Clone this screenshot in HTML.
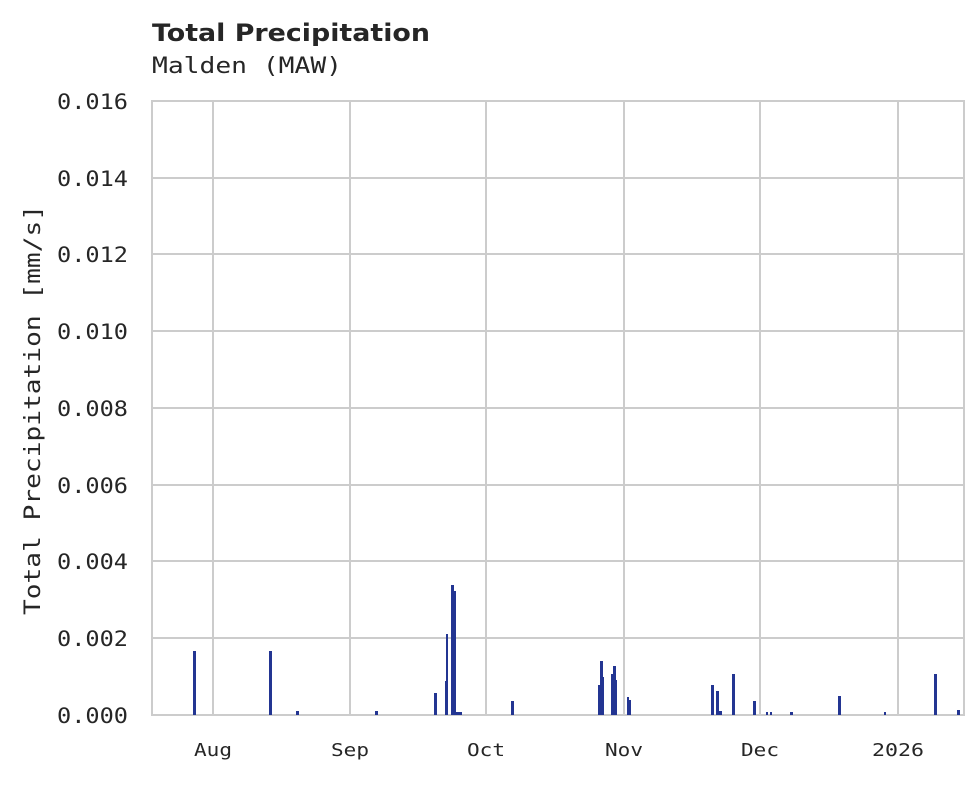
<!DOCTYPE html>
<html><head><meta charset="utf-8"><style>body{margin:0;background:#fff}</style></head><body>
<svg width="980" height="780" xmlns="http://www.w3.org/2000/svg">
<rect width="980" height="780" fill="#fff"/>
<text x="152" y="41" font-family="DejaVu Sans, Liberation Sans, sans-serif" font-weight="bold" font-size="24" fill="#262626" textLength="278" lengthAdjust="spacingAndGlyphs">Total Precipitation</text>
<text x="152" y="73" font-family="DejaVu Sans Mono, Liberation Mono, monospace" font-size="22" fill="#262626" textLength="190" lengthAdjust="spacingAndGlyphs">Malden (MAW)</text>
<g stroke="#cccccc" stroke-width="2">
<line x1="152" y1="178" x2="964" y2="178"/><line x1="152" y1="254" x2="964" y2="254"/>
<line x1="152" y1="331" x2="964" y2="331"/><line x1="152" y1="408" x2="964" y2="408"/>
<line x1="152" y1="485" x2="964" y2="485"/><line x1="152" y1="561" x2="964" y2="561"/>
<line x1="152" y1="638" x2="964" y2="638"/>
<line x1="213" y1="101" x2="213" y2="715"/><line x1="350" y1="101" x2="350" y2="715"/>
<line x1="486" y1="101" x2="486" y2="715"/><line x1="624" y1="101" x2="624" y2="715"/>
<line x1="760" y1="101" x2="760" y2="715"/><line x1="898" y1="101" x2="898" y2="715"/>
<rect x="152" y="101" width="812" height="614" fill="none"/>
</g>
<g fill="#233592">
<rect x="193" y="651" width="3" height="64"/><rect x="269" y="651" width="3" height="64"/>
<rect x="296" y="711" width="3" height="4"/><rect x="375" y="711" width="3" height="4"/>
<rect x="434" y="693" width="3" height="22"/><rect x="445" y="681" width="2" height="34"/>
<rect x="446" y="634" width="2" height="81"/><rect x="451" y="631" width="2" height="84"/>
<rect x="451" y="585" width="3" height="130"/><rect x="453" y="591" width="3" height="124"/>
<rect x="456" y="712" width="6" height="3"/>
<rect x="511" y="701" width="3" height="14"/>
<rect x="598" y="685" width="2" height="30"/><rect x="600" y="661" width="3" height="54"/><rect x="602" y="677" width="2" height="38"/>
<rect x="611" y="674" width="2" height="41"/><rect x="613" y="666" width="3" height="49"/><rect x="615" y="680" width="2" height="35"/>
<rect x="627" y="697" width="2" height="18"/><rect x="629" y="700" width="2" height="15"/>
<rect x="711" y="685" width="3" height="30"/><rect x="716" y="691" width="3" height="24"/><rect x="719" y="711" width="3" height="4"/>
<rect x="732" y="674" width="3" height="41"/><rect x="753" y="701" width="3" height="14"/>
<rect x="766" y="712" width="2" height="3"/><rect x="770" y="712" width="2" height="3"/>
<rect x="790" y="712" width="3" height="3"/><rect x="838" y="696" width="3" height="19"/>
<rect x="884" y="712" width="2" height="3"/><rect x="934" y="674" width="3" height="41"/>
<rect x="957" y="710" width="3" height="5"/>
</g>
<g font-family="DejaVu Sans Mono, Liberation Mono, monospace" font-size="21" fill="#262626">
<text x="57" y="109" textLength="71" lengthAdjust="spacingAndGlyphs">0.016</text>
<text x="57" y="186" textLength="71" lengthAdjust="spacingAndGlyphs">0.014</text>
<text x="57" y="262" textLength="71" lengthAdjust="spacingAndGlyphs">0.012</text>
<text x="57" y="339" textLength="71" lengthAdjust="spacingAndGlyphs">0.010</text>
<text x="57" y="416" textLength="71" lengthAdjust="spacingAndGlyphs">0.008</text>
<text x="57" y="493" textLength="71" lengthAdjust="spacingAndGlyphs">0.006</text>
<text x="57" y="569" textLength="71" lengthAdjust="spacingAndGlyphs">0.004</text>
<text x="57" y="646" textLength="71" lengthAdjust="spacingAndGlyphs">0.002</text>
<text x="57" y="723" textLength="71" lengthAdjust="spacingAndGlyphs">0.000</text>
</g>
<g font-family="DejaVu Sans Mono, Liberation Mono, monospace" font-size="18" fill="#262626">
<text x="194" y="756" textLength="38" lengthAdjust="spacingAndGlyphs">Aug</text>
<text x="331" y="756" textLength="38" lengthAdjust="spacingAndGlyphs">Sep</text>
<text x="467" y="756" textLength="38" lengthAdjust="spacingAndGlyphs">Oct</text>
<text x="605" y="756" textLength="38" lengthAdjust="spacingAndGlyphs">Nov</text>
<text x="741" y="756" textLength="38" lengthAdjust="spacingAndGlyphs">Dec</text>
<text x="872" y="756" textLength="52" lengthAdjust="spacingAndGlyphs">2026</text>
</g>
<text transform="translate(40,410) rotate(-90)" x="-205" y="0" font-family="DejaVu Sans Mono, Liberation Mono, monospace" font-size="22" fill="#262626" textLength="410" lengthAdjust="spacingAndGlyphs">Total Precipitation [mm/s]</text>
</svg>
</body></html>
